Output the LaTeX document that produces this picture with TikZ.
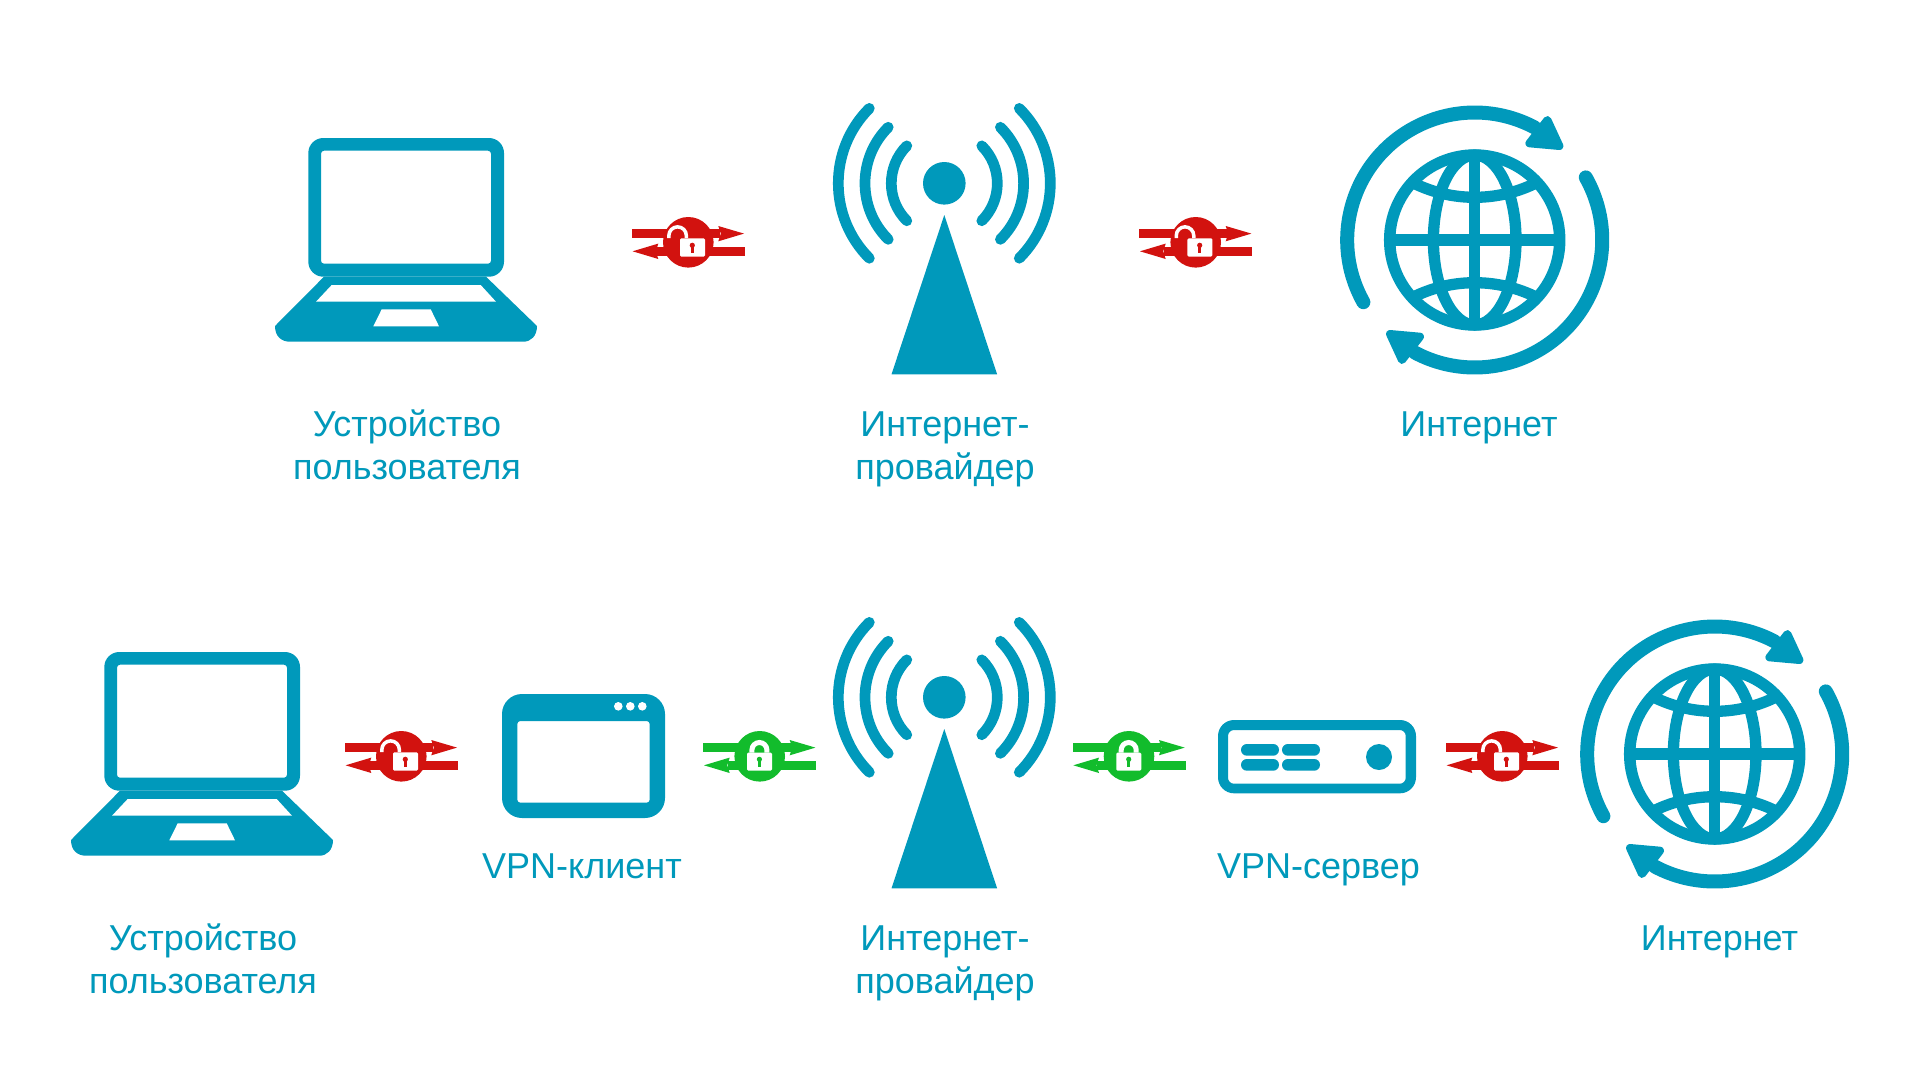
\documentclass[tikz,border=0pt]{standalone}
\usepackage{fontspec}
\setmainfont{Liberation Sans}
\definecolor{teal1}{HTML}{0099BB}
\definecolor{redlink}{HTML}{D2120F}
\definecolor{greenlink}{HTML}{12BC2C}
\newcommand{\LinkBase}[1]{%
  \fill[#1] (-56.3,13.5) rectangle (32,4.1);
  \fill[#1] (55.7,8.7) -- (30,16.3) -- (32.5,8.7) -- (30,1) -- cycle;
  \fill[#1] (56.7,-4.5) rectangle (-32,-13.9);
  \fill[#1] (-55.7,-9) -- (-30,-1.3) -- (-32.5,-9) -- (-30,-16.7) -- cycle;
  \fill[#1] (0,0) circle[radius=25.3pt];
}
\tikzset{
  iconfill/.style={fill=teal1},
  arcline/.style={draw=teal1,line width=10.7pt,line cap=round},
  labeltext/.style={text=teal1,font=\fontsize{36}{43}\selectfont,align=center,inner sep=0pt},
  pics/laptopicon/.style={code={
    \fill[iconfill,even odd rule] [rounded corners=15pt] (308.3,-138) rectangle (504,-276.7)
       [rounded corners=3pt] (321,-150.7) rectangle (491,-263.7);
    \fill[iconfill] (324,-276.7) -- (275,-326) .. controls (275,-336) and (281,-341.7) .. (290,-341.7)
       -- (523.3,-341.7) .. controls (531,-341.7) and (537,-336) .. (537,-326) -- (486,-276.7) -- cycle;
    \fill[white] (331.7,-285) -- (480.7,-285) -- (496,-301.7) -- (316,-301.7) -- cycle;
    \fill[white] (381.7,-309.3) -- (430.7,-309.3) -- (439,-326.3) -- (373.3,-326.3) -- cycle;
  }},
  pics/towericon/.style={code={
    \fill[iconfill] (0,0) circle[radius=21.3pt];
    \fill[iconfill] (0,-31.7) -- (52.8,-191) -- (-52.8,-191) -- cycle;
    \foreach \r in {53,79.3,106}{
      \draw[arcline] (135:\r pt) arc[start angle=135,end angle=225,radius=\r pt];
      \draw[arcline] (45:\r pt) arc[start angle=45,end angle=-45,radius=\r pt];
    }
  }},
  pics/globeicon/.style={code={
    \draw[teal1,line width=11.5pt] (0,0) circle[radius=85pt];
    \draw[teal1,line width=11.3pt] (0,85) -- (0,-85) (-85,0) -- (85,0);
    \draw[teal1,line width=11.3pt] (0,0) ellipse[x radius=41.3pt,y radius=85pt];
    \begin{scope}
      \clip (0,0) circle[radius=85pt];
      \draw[teal1,line width=11.3pt] (0,181) circle[radius=138.3pt];
      \draw[teal1,line width=11.3pt] (0,-181) circle[radius=138.3pt];
    \end{scope}
    \draw[teal1,line width=14pt,line cap=round] (209.2:127.5pt) arc[start angle=209.2,end angle=62,radius=127.5pt];
    \draw[teal1,line width=14pt,line cap=round] (29.4:127.5pt) arc[start angle=29.4,end angle=-118,radius=127.5pt];
    \filldraw[teal1,line width=8pt,line join=round] (72.7,120) -- (84.7,94) -- (54.7,96.7) -- cycle;
    \filldraw[teal1,line width=8pt,line join=round] (-72.7,-120) -- (-84.7,-94) -- (-54.7,-96.7) -- cycle;
  }},
  pics/windowicon/.style={code={
    \fill[iconfill,even odd rule] [rounded corners=20pt] (502,-694) rectangle (665,-818)
       [rounded corners=3pt] (517.3,-721) rectangle (649.7,-802.7);
    \foreach \x in {618.3,630.3,642.3}{\fill[white] (\x,-706.3) circle[radius=4.3pt];}
  }},
  pics/servericon/.style={code={
    \fill[iconfill,even odd rule] [rounded corners=16pt] (1218,-720) rectangle (1416,-793.3)
       [rounded corners=6pt] (1228,-730) rectangle (1405.7,-783.7);
    \fill[iconfill] [rounded corners=5.8pt] (1241,-744) rectangle (1279,-755.7);
    \fill[iconfill] [rounded corners=5.8pt] (1282,-744) rectangle (1320,-755.7);
    \fill[iconfill] [rounded corners=5.8pt] (1241,-759) rectangle (1279,-770.7);
    \fill[iconfill] [rounded corners=5.8pt] (1282,-759) rectangle (1320,-770.7);
    \fill[iconfill] (1379,-757) circle[radius=13pt];
  }},
  pics/openlink/.style={code={
    \LinkBase{redlink}
    \draw[white,line width=3.5pt] (-19.45,4.3) -- (-19.45,6.7) arc[start angle=180,end angle=0,radius=8.75pt] -- (-1.95,4.3);
    \fill[white] [rounded corners=1.3pt] (-8.3,4) rectangle (16.7,-14.3);
    \fill[redlink] (4,-3) circle[radius=2.6pt];
    \fill[redlink] (2.7,-3) rectangle (5.3,-10.3);
  }},
  pics/closedlink/.style={code={
    \LinkBase{greenlink}
    \draw[white,line width=5pt] (-7.8,3.7) -- (-7.8,6.3) arc[start angle=180,end angle=0,radius=7.5pt] -- (7.2,3.7);
    \fill[white] [rounded corners=1.3pt] (-12.7,3.7) rectangle (12.3,-14.3);
    \fill[greenlink] (-0.3,-3) circle[radius=2.6pt];
    \fill[greenlink] (-1.6,-3) rectangle (1,-10.3);
  }},
}
\begin{document}
\begin{tikzpicture}[x=1pt,y=1pt]
\useasboundingbox (0,0) rectangle (1920,-1080);
\fill[white] (0,0) rectangle (1920,-1080);
% top row
\pic at (0,0) {laptopicon};
\pic at (688.3,-242.3) {openlink};
\pic at (944.3,-183.3) {towericon};
\pic at (1195.7,-242.3) {openlink};
\pic at (1474.7,-240) {globeicon};
\node[labeltext] (t1) at (407,-449.5) {\strut Устройство\\\strut пользователя};
\node[labeltext] (t2) at (945,-449.5) {\strut Интернет-\\\strut провайдер};
\node[labeltext] (t3) at (1479,-428) {\strut Интернет};
% bottom row
\pic at (-204,-514) {laptopicon};
\pic at (401.3,-756.3) {openlink};
\pic at (0,0) {windowicon};
\pic at (759.7,-756.3) {closedlink};
\pic at (944.3,-697.3) {towericon};
\pic at (1129,-756.3) {closedlink};
\pic at (0,0) {servericon};
\pic at (1502.3,-756.3) {openlink};
\pic at (1714.7,-754) {globeicon};
\node[labeltext] (b1) at (203,-963.5) {\strut Устройство\\\strut пользователя};
\node[labeltext] (b2) at (582,-869.5) {\strut VPN-клиент};
\node[labeltext] (b3) at (945,-963.5) {\strut Интернет-\\\strut провайдер};
\node[labeltext] (b4) at (1318.5,-869.5) {\strut VPN-сервер};
\node[labeltext] (b5) at (1719.5,-942) {\strut Интернет};
\end{tikzpicture}
\end{document}
